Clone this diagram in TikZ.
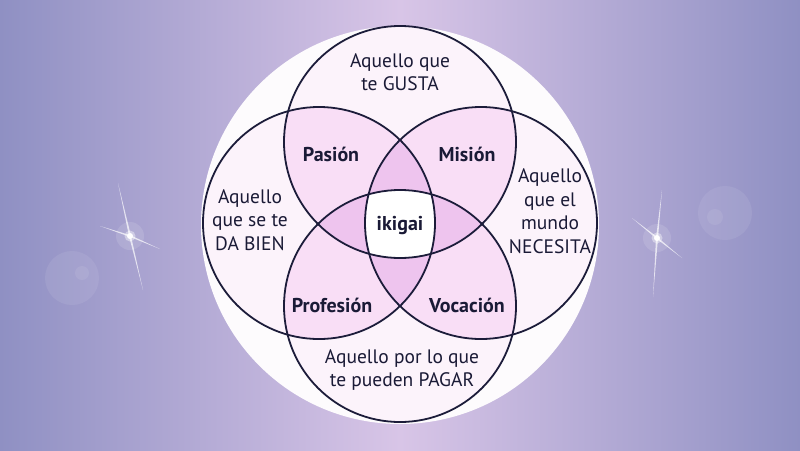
\documentclass[tikz,border=0pt]{standalone}
\usepackage{fontspec}
\setmainfont{PT Sans}
\usepackage{tikz}
\usetikzlibrary{calc}

\definecolor{bgedge}{HTML}{8F90C3}
\definecolor{bgmid}{HTML}{D8C5E7}
\definecolor{ringline}{HTML}{1C1C3A}
\definecolor{oneset}{HTML}{FCF3FB}
\definecolor{twoset}{HTML}{F9DEF6}
\definecolor{threeset}{HTML}{EEC4EE}
\definecolor{labelink}{HTML}{1A1A36}
\newcommand{\ringradius}{116pt}

\begin{document}
\begin{tikzpicture}[x=1pt, y=-1pt,
			ring/.style={draw=ringline, line width=1.8pt},
			plain/.style={
				text=labelink,
				align=center,
				font=\fontsize{19.5}{23.5}\selectfont
			},
			zone/.style={
				text=labelink,
				align=center,
				font=\fontsize{20}{22}\selectfont\bfseries
			},
			flare/.style={fill=white, fill opacity=0.08},
			ray/.style={fill=white, fill opacity=0.7}
			]
			
			\useasboundingbox (0,0) rectangle (800,450);
			
			% Background
			\shade[left color=bgedge, right color=bgedge, middle color=bgmid] (0,0) rectangle (800,450);
			
			% Lens flares
			\fill[flare] (72,278) circle[radius=27pt];
			\fill[flare] (82,273) circle[radius=7pt];
			\fill[flare] (725,213) circle[radius=27pt];
			\fill[flare] (715,217) circle[radius=8pt];
			
			% Left sparkle
			\coordinate (spark1) at (130,236);
			\coordinate (spark1a) at (118,183);
			\coordinate (spark1b) at (143,290);
			\coordinate (spark1c) at (100,226);
			\coordinate (spark1d) at (160,249);
			\fill[white, opacity=0.12] (spark1) circle[radius=14pt];
			\fill[ray] (spark1a) -- ($(spark1)!1pt!90:(spark1a)$) -- (spark1b) -- ($(spark1)!1pt!-90:(spark1a)$) -- cycle;
			\fill[ray] (spark1c) -- ($(spark1)!0.9pt!90:(spark1c)$) -- (spark1d) -- ($(spark1)!0.9pt!-90:(spark1c)$) -- cycle;
			\fill[white, opacity=0.4] (spark1) circle[radius=5.5pt];
			\fill[white] (spark1) circle[radius=3pt];
			
			% Right sparkle
			\coordinate (spark2) at (657,238);
			\coordinate (spark2a) at (662,190);
			\coordinate (spark2b) at (653,297);
			\coordinate (spark2c) at (632,218);
			\coordinate (spark2d) at (682,258);
			\fill[white, opacity=0.12] (spark2) circle[radius=14pt];
			\fill[ray] (spark2a) -- ($(spark2)!1pt!90:(spark2a)$) -- (spark2b) -- ($(spark2)!1pt!-90:(spark2a)$) -- cycle;
			\fill[ray] (spark2c) -- ($(spark2)!0.9pt!90:(spark2c)$) -- (spark2d) -- ($(spark2)!0.9pt!-90:(spark2c)$) -- cycle;
			\fill[white, opacity=0.4] (spark2) circle[radius=5.5pt];
			\fill[white] (spark2) circle[radius=3pt];
			
			% White disc
			\fill[white!94!bgmid] (400,225) circle[radius=199pt];
			
			% Circle centres
			\coordinate (top) at (400,142);
			\coordinate (bottom) at (400,306);
			\coordinate (left) at (319,223);
			\coordinate (right) at (481,223);
			
			% One circle
			\foreach \c in {top,bottom,left,right}
				\fill[oneset] (\c) circle[radius=\ringradius];
			
			% Two circles
			\foreach \a/\b in {top/left,top/right,bottom/left,bottom/right,top/bottom,left/right}{
				\begin{scope}
					\clip (\a) circle[radius=\ringradius];
					\fill[twoset] (\b) circle[radius=\ringradius];
				\end{scope}
			}
			
			% Three circles
			\foreach \a/\b/\d in {top/left/right,bottom/left/right,left/top/bottom,right/top/bottom}{
				\begin{scope}
					\clip (\a) circle[radius=\ringradius];
					\clip (\b) circle[radius=\ringradius];
					\fill[threeset] (\d) circle[radius=\ringradius];
				\end{scope}
			}
			
			% All four
			\begin{scope}
				\clip (top) circle[radius=\ringradius];
				\clip (bottom) circle[radius=\ringradius];
				\clip (left) circle[radius=\ringradius];
				\fill[white] (right) circle[radius=\ringradius];
			\end{scope}
			
			% Outlines
			\foreach \c in {top,bottom,left,right}
				\draw[ring] (\c) circle[radius=\ringradius];
			
			% Outer labels
			\node[plain] (likes) at (400,72) {Aquello que\\te GUSTA};
			\node[plain] (good) at (250,220) {Aquello\\que se te\\DA BIEN};
			\node[plain] (needs) at (550,211) {Aquello\\que el\\mundo\\NECESITA};
			\node[plain] (paid) at (402,370) {Aquello por lo que\\te pueden PAGAR};
			
			% Overlap labels
			\node[zone] (passion) at (331,154) {Pasión};
			\node[zone] (mission) at (467,154) {Misión};
			\node[zone] (profession) at (332,305) {Profesión};
			\node[zone] (vocation) at (467,305) {Vocación};
			\node[zone] (ikigai) at (400,226) {ikigai};
			
		\end{tikzpicture}
\end{document}
